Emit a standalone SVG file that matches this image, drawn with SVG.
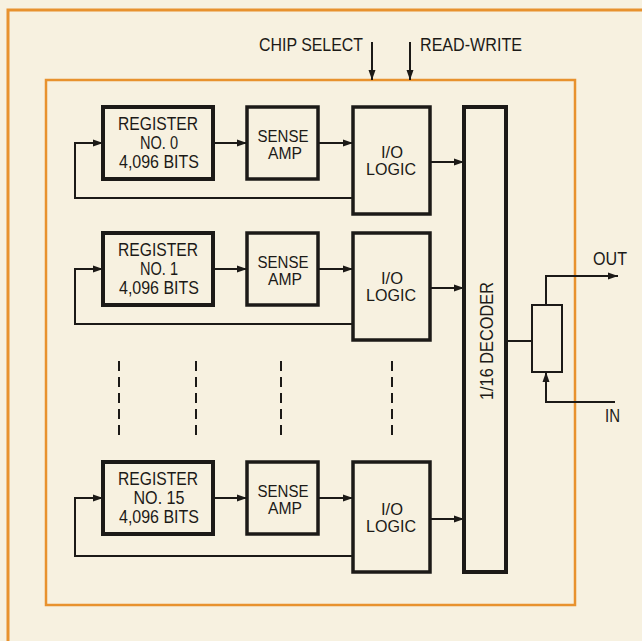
<svg xmlns="http://www.w3.org/2000/svg" width="642" height="641" viewBox="0 0 642 641">
<defs>
<marker id="ah" markerUnits="userSpaceOnUse" markerWidth="11" markerHeight="8" refX="10" refY="4" orient="auto">
<path d="M0,0.5 L10,4 L0,7.5 z" fill="#1c1a17"/>
</marker>
<style>
.frame{fill:none;stroke:#e8922e;stroke-width:3}
.inner{fill:none;stroke:#e8922e;stroke-width:2.5}
.box{fill:none;stroke:#1c1a17;stroke-width:4}
.box2{fill:none;stroke:#1c1a17;stroke-width:3.5}
.wire{fill:none;stroke:#1c1a17;stroke-width:2}
.arr{fill:none;stroke:#1c1a17;stroke-width:2;marker-end:url(#ah)}
.dash{fill:none;stroke:#1c1a17;stroke-width:2;stroke-dasharray:10 6}
text{font-family:"Liberation Sans",Arial,sans-serif;font-size:18px;fill:#1c1a17}
.c{text-anchor:middle}
.s{font-size:16px}
</style>
</defs>
<rect width="642" height="641" fill="#f7f1e0"/>
<path class="frame" d="M8,642 V10 H643"/>
<rect class="inner" x="46" y="80" width="529" height="525"/>

<g id="labels-top">
<text x="259" y="51" textLength="104" lengthAdjust="spacingAndGlyphs">CHIP SELECT</text>
<text x="420" y="51" textLength="102" lengthAdjust="spacingAndGlyphs">READ-WRITE</text>
</g>

<g id="register0"><rect class="box" x="103" y="107" width="110" height="72"/>
<text class="c" x="158" y="130" textLength="80" lengthAdjust="spacingAndGlyphs">REGISTER</text>
<text class="c" x="159" y="149" textLength="38" lengthAdjust="spacingAndGlyphs">NO. 0</text>
<text class="c" x="159" y="168" textLength="80" lengthAdjust="spacingAndGlyphs">4,096 BITS</text></g>
<g id="sense0"><rect class="box2" x="247" y="107" width="71" height="72"/>
<text class="c s" x="283" y="142" textLength="51" lengthAdjust="spacingAndGlyphs">SENSE</text>
<text class="c s" x="285" y="159" textLength="34" lengthAdjust="spacingAndGlyphs">AMP</text></g>
<g id="io0"><rect class="box2" x="353" y="107" width="77" height="107"/>
<text class="c s" x="392" y="158" textLength="22" lengthAdjust="spacingAndGlyphs">I/O</text>
<text class="c s" x="391" y="175" textLength="50" lengthAdjust="spacingAndGlyphs">LOGIC</text></g>

<g id="register1"><rect class="box" x="103" y="233" width="110" height="72"/>
<text class="c" x="158" y="256" textLength="80" lengthAdjust="spacingAndGlyphs">REGISTER</text>
<text class="c" x="159" y="275" textLength="38" lengthAdjust="spacingAndGlyphs">NO. 1</text>
<text class="c" x="159" y="294" textLength="80" lengthAdjust="spacingAndGlyphs">4,096 BITS</text></g>
<g id="sense1"><rect class="box2" x="247" y="233" width="71" height="72"/>
<text class="c s" x="283" y="268" textLength="51" lengthAdjust="spacingAndGlyphs">SENSE</text>
<text class="c s" x="285" y="285" textLength="34" lengthAdjust="spacingAndGlyphs">AMP</text></g>
<g id="io1"><rect class="box2" x="353" y="233" width="77" height="107"/>
<text class="c s" x="392" y="284" textLength="22" lengthAdjust="spacingAndGlyphs">I/O</text>
<text class="c s" x="391" y="301" textLength="50" lengthAdjust="spacingAndGlyphs">LOGIC</text></g>

<g id="register15"><rect class="box" x="103" y="462" width="110" height="72"/>
<text class="c" x="158" y="485" textLength="80" lengthAdjust="spacingAndGlyphs">REGISTER</text>
<text class="c" x="159" y="504" textLength="51" lengthAdjust="spacingAndGlyphs">NO. 15</text>
<text class="c" x="159" y="523" textLength="80" lengthAdjust="spacingAndGlyphs">4,096 BITS</text></g>
<g id="sense15"><rect class="box2" x="247" y="462" width="71" height="72"/>
<text class="c s" x="283" y="497" textLength="51" lengthAdjust="spacingAndGlyphs">SENSE</text>
<text class="c s" x="285" y="514" textLength="34" lengthAdjust="spacingAndGlyphs">AMP</text></g>
<g id="io15"><rect class="box2" x="353" y="462" width="77" height="110"/>
<text class="c s" x="392" y="515" textLength="22" lengthAdjust="spacingAndGlyphs">I/O</text>
<text class="c s" x="391" y="532" textLength="50" lengthAdjust="spacingAndGlyphs">LOGIC</text></g>

<g id="decoder"><rect class="box" x="464" y="107" width="42" height="465"/>
<text class="c" transform="translate(493,341) rotate(-90)" x="0" y="0" textLength="118" lengthAdjust="spacingAndGlyphs">1/16 DECODER</text></g>

<g id="buffer"><rect class="wire" x="532" y="305" width="30" height="67"/></g>

<g id="io-labels">
<text x="593" y="265" textLength="34" lengthAdjust="spacingAndGlyphs">OUT</text>
<text x="605" y="422" textLength="15" lengthAdjust="spacingAndGlyphs">IN</text>
</g>

<g id="connectors">
<path class="arr" d="M372,42 V80"/>
<path class="arr" d="M410,42 V80"/>

<path class="arr" d="M213,143 H247"/>
<path class="arr" d="M318,143 H353"/>
<path class="arr" d="M430,162 H464"/>
<path class="arr" d="M353,198 H75 V143 H103"/>

<path class="arr" d="M213,269 H247"/>
<path class="arr" d="M318,269 H353"/>
<path class="arr" d="M430,288 H464"/>
<path class="arr" d="M353,324 H75 V269 H103"/>

<path class="arr" d="M213,498 H247"/>
<path class="arr" d="M318,498 H353"/>
<path class="arr" d="M430,519 H464"/>
<path class="arr" d="M353,556 H75 V498 H103"/>

<path class="dash" d="M119,361 V438"/>
<path class="dash" d="M196,361 V438"/>
<path class="dash" d="M281,361 V438"/>
<path class="dash" d="M392,361 V440"/>

<path class="wire" d="M506,341 H532"/>
<path class="arr" d="M546,305 V276 H618"/>
<path class="arr" d="M615,402 H546 V372"/>
</g>
</svg>
